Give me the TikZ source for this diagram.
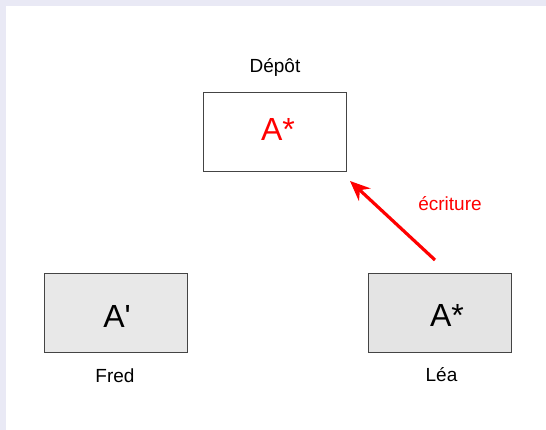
\documentclass[tikz,border=0pt]{standalone}
\usepackage{fontspec}
\setmainfont{Liberation Sans}
\usetikzlibrary{arrows.meta}
\definecolor{bandcol}{HTML}{E9E9F5}
\definecolor{boxline}{HTML}{444444}
\definecolor{fredfill}{HTML}{E8E8E8}
\definecolor{leafill}{HTML}{E4E4E4}
\tikzset{
  repo/.style={draw=boxline, line width=0.9pt, minimum width=143pt, minimum height=79pt, inner sep=0pt},
  lbl/.style={anchor=base, inner sep=0pt, font=\fontsize{19}{21}\selectfont},
  big/.style={anchor=base, inner sep=0pt, font=\fontsize{32}{35}\selectfont},
  writearrow/.style={draw=red, line width=3.2pt, -{Stealth[length=20pt,width=17pt]}}
}
\begin{document}
\begin{tikzpicture}[x=1pt,y=-1pt]
\useasboundingbox (0,0) rectangle (546,430);
\fill[white] (0,0) rectangle (546,430);
\fill[bandcol] (0,0) rectangle (546,6);
\fill[bandcol] (0,0) rectangle (5.5,430);
% boxes
\node[repo, fill=white] (depot) at (274.5,131.5) {};
\node[repo, fill=fredfill] (fred) at (115.5,312.5) {};
\node[repo, fill=leafill] (lea) at (439.5,312.5) {};
% contents
\node[big, text=red] (depotA) at (278,141) {A*};
\node[big] (fredA) at (117,327) {A\textquotesingle};
\node[big] (leaA) at (447,326) {A*};
% labels
\node[lbl] (depotL) at (275,73) {Dépôt};
\node[lbl] (fredL) at (115,382) {Fred};
\node[lbl] (leaL) at (441.5,381) {Léa};
\node[lbl, text=red] (ecr) at (450,211) {écriture};
% arrow
\coordinate (tail) at (435,260);
\coordinate (tip) at (350,181);
\draw[writearrow] (tail) -- (tip);
\end{tikzpicture}
\end{document}
